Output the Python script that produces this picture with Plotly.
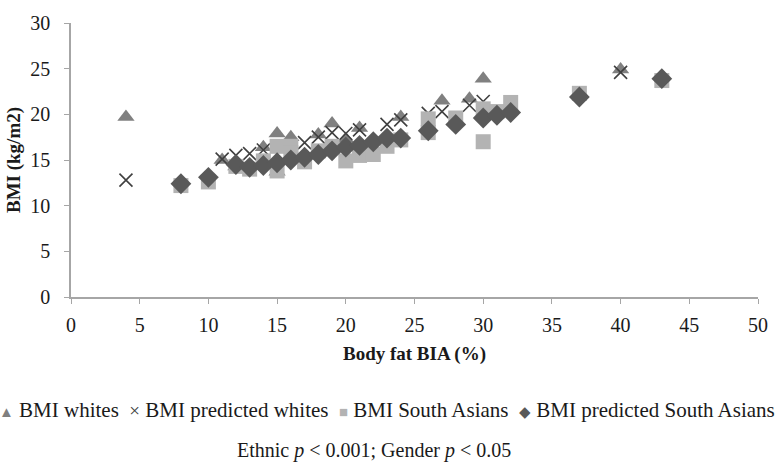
import plotly.graph_objects as go

# BMI whites (triangles)
whites_x = [4, 11, 12, 14, 15, 15, 16, 18, 19, 20, 21, 24, 27, 29, 30, 40]
whites_y = [19.7, 15.0, 14.3, 16.4, 17.9, 13.7, 17.5, 17.8, 19.0, 17.3, 18.5, 19.7, 21.5, 21.7, 23.9, 24.9]

# BMI predicted whites (crosses)
pred_whites_x = [4, 11, 12, 13, 14, 17, 18, 19, 20, 21, 23, 24, 26, 27, 29, 30, 40]
pred_whites_y = [12.8, 15.1, 15.5, 15.7, 16.1, 16.9, 17.5, 18.0, 17.9, 18.3, 18.9, 19.4, 20.1, 20.3, 21.0, 21.4, 24.6]

# BMI South Asians (squares)
sa_x = [8, 10, 12, 13, 14, 15, 15, 16, 16, 17, 18, 19, 20, 21, 22, 23, 24, 26, 26, 28, 30, 30, 31, 32, 37, 43]
sa_y = [12.2, 12.6, 14.3, 14.0, 14.9, 16.5, 13.8, 16.5, 15.8, 14.8, 16.0, 16.5, 14.9, 15.5, 15.6, 16.5, 17.2,
        19.5, 18.0, 19.6, 20.6, 17.0, 20.3, 21.3, 22.3, 23.7]

# BMI predicted South Asians (diamonds)
pred_sa_x = [8, 10, 12, 13, 14, 15, 16, 17, 18, 19, 20, 21, 22, 23, 24, 26, 28, 30, 31, 32, 37, 43]
pred_sa_y = [12.4, 13.1, 14.5, 14.2, 14.4, 14.7, 15.0, 15.3, 15.6, 16.0, 16.4, 16.6, 17.0, 17.4, 17.4,
             18.2, 18.9, 19.6, 19.9, 20.2, 21.9, 23.9]

FONT = "Palatino Linotype, Book Antiqua, Palatino, Liberation Serif, serif"
AXIS_GREY = "#a6a6a6"

# name, x, y, plot symbol, size, colour, legend glyph
series = [
    ("BMI whites", whites_x, whites_y, "triangle-up", 15, "#808080", "\u25b2"),
    ("BMI predicted whites", pred_whites_x, pred_whites_y, "x-thin-open", 13, "#404040", "\u00d7"),
    ("BMI South Asians", sa_x, sa_y, "square", 15, "#b3b3b3", "\u25a0"),
    ("BMI predicted South Asians", pred_sa_x, pred_sa_y, "diamond", 16, "#595959", "\u25c6"),
]

fig = go.Figure()
for name, xs, ys, sym, size, col, glyph in series:
    marker = dict(symbol=sym, size=size, color=col)
    if sym.startswith("x"):
        marker["line"] = dict(color=col, width=1.6)
    fig.add_trace(go.Scatter(x=xs, y=ys, mode="markers", name=name,
                             marker=marker, showlegend=False))

# legend written as one line of text with small coloured glyphs (Excel style)
parts = []
for name, xs, ys, sym, size, col, glyph in series:
    gsize = 19 if glyph == "\u00d7" else 15
    parts.append(f'<span style="color:{col};font-size:{gsize}px">{glyph}</span>\u00a0{name}')
legend_text = "\u00a0\u00a0".join(parts)

fig.update_layout(
    width=780, height=470,
    margin=dict(l=70, r=19, t=16, b=173),
    paper_bgcolor="white", plot_bgcolor="white",
    font=dict(family=FONT, size=20, color="#1a1a1a"),
    showlegend=False,
    xaxis=dict(range=[0, 50], dtick=5, showgrid=False, zeroline=False,
               showline=True, linecolor=AXIS_GREY, linewidth=1.5,
               ticks="outside", ticklen=5, tickcolor=AXIS_GREY, tickwidth=1.2,
               ticklabelstandoff=4, tickfont=dict(size=20),
               title=dict(text="<b>Body fat BIA (%)</b>", font=dict(size=19), standoff=12)),
    yaxis=dict(range=[0, 30], dtick=5, showgrid=False, zeroline=False,
               showline=True, linecolor=AXIS_GREY, linewidth=1.5,
               ticks="outside", ticklen=5, tickcolor=AXIS_GREY, tickwidth=1.2,
               ticklabelstandoff=10, tickfont=dict(size=20),
               title=dict(text="<b>BMI (kg/m2)</b>", font=dict(size=19), standoff=5)),
)

fig.add_annotation(
    text=legend_text, xref="paper", yref="paper", x=0.46, y=-0.413,
    xanchor="center", yanchor="middle", showarrow=False, font=dict(size=21),
)
fig.add_annotation(
    text="Ethnic <i>p</i> < 0.001; Gender <i>p</i> < 0.05",
    xref="paper", yref="paper", x=0.441, y=-0.562, xanchor="center", yanchor="middle",
    showarrow=False, font=dict(size=20),
)

fig.write_html("out.html", config={"displayModeBar": False},
               post_script="document.body.style.margin='0';")
